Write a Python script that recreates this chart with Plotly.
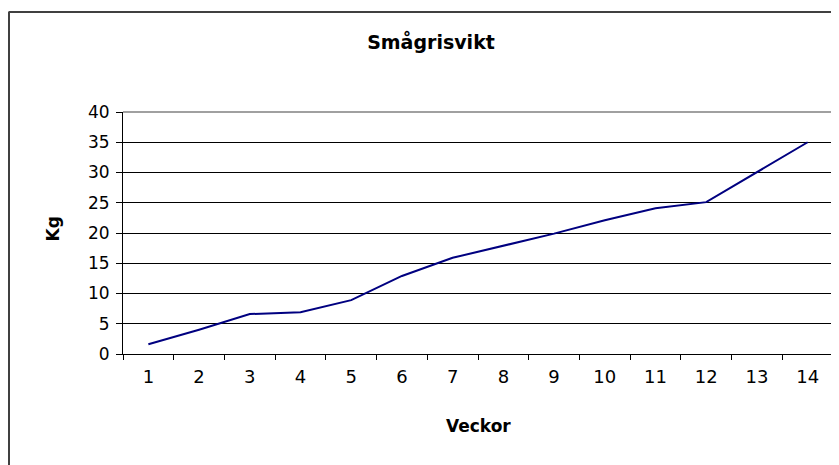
import plotly.graph_objects as go

weeks = [str(i) for i in range(1, 15)]
weight_kg = [1.6, 4.0, 6.6, 6.9, 8.9, 12.9, 15.9, 17.9, 19.9, 22.1, 24.1, 25.1, 30.0, 35.0]
y_ticks = [0, 5, 10, 15, 20, 25, 30, 35, 40]

FONT = "DejaVu Sans, Arial, sans-serif"
OFF = 8  # default page body margin

W, H = 839 - OFF, 465 - OFF
L, R, T, B = 123 - OFF, 833 - OFF, 112 - OFF, 354 - OFF  # plot area in figure px

fig = go.Figure()
fig.add_trace(go.Scatter(
    x=weeks, y=weight_kg, mode="lines",
    line=dict(color="#000080", width=2),
    showlegend=False, hoverinfo="x+y",
))

fig.update_layout(
    width=W, height=H,
    margin=dict(l=L, r=W - R, t=T, b=H - B),
    paper_bgcolor="white", plot_bgcolor="white",
    title=dict(text="<b>Smågrisvikt</b>", x=(431 - OFF) / W, xanchor="center",
               y=1 - (42 - OFF) / H, yanchor="middle",
               font=dict(family=FONT, size=19, color="black")),
    font=dict(family=FONT, color="black"),
)

fig.update_xaxes(
    type="category", range=[-0.5, 13.5],
    tickson="boundaries", ticks="outside", ticklen=5, tickcolor="black", tickwidth=1,
    showline=True, linecolor="black", linewidth=1,
    showgrid=False, ticklabelstandoff=6,
    tickfont=dict(size=18, family=FONT, color="black"),
)
fig.update_yaxes(
    range=[0, 40], tickvals=y_ticks,
    ticks="outside", ticklen=6, tickcolor="black", tickwidth=1,
    showline=True, linecolor="black", linewidth=1,
    showgrid=True, gridcolor="black", gridwidth=1, zeroline=False,
    ticklabelstandoff=3,
    tickfont=dict(size=17, family=FONT, color="black"),
)

pw, ph = R - L, B - T
fig.add_annotation(text="<b>Veckor</b>", xref="paper", yref="paper",
                   x=0.5, y=(B - (426 - OFF)) / ph, xanchor="center", yanchor="middle",
                   showarrow=False, font=dict(size=17, family=FONT, color="black"))
fig.add_annotation(text="<b>Kg</b>", xref="paper", yref="paper", textangle=-90,
                   x=((52 - OFF) - L) / pw, y=(B - (229.5 - OFF)) / ph,
                   xanchor="center", yanchor="middle",
                   showarrow=False, font=dict(size=17, family=FONT, color="black"))

# plot-area border (top and right, grey)
fig.add_shape(type="line", xref="paper", yref="paper", x0=0, x1=1, y0=1, y1=1,
              line=dict(color="#808080", width=1.5))
fig.add_shape(type="line", xref="paper", yref="paper", x0=1, x1=1, y0=0, y1=1,
              line=dict(color="#808080", width=1.5))

# outer chart border (extends past the image on the right/bottom)
px_x = lambda p: ((p - OFF) - L) / pw
px_y = lambda p: (B - (p - OFF)) / ph
fig.add_shape(type="line", xref="paper", yref="paper",
              x0=px_x(8.5), x1=px_x(900), y0=px_y(12), y1=px_y(12),
              line=dict(color="black", width=1.5))
fig.add_shape(type="line", xref="paper", yref="paper",
              x0=px_x(9), x1=px_x(9), y0=px_y(12), y1=px_y(520),
              line=dict(color="#404040", width=2))

fig.write_html("out.html")
